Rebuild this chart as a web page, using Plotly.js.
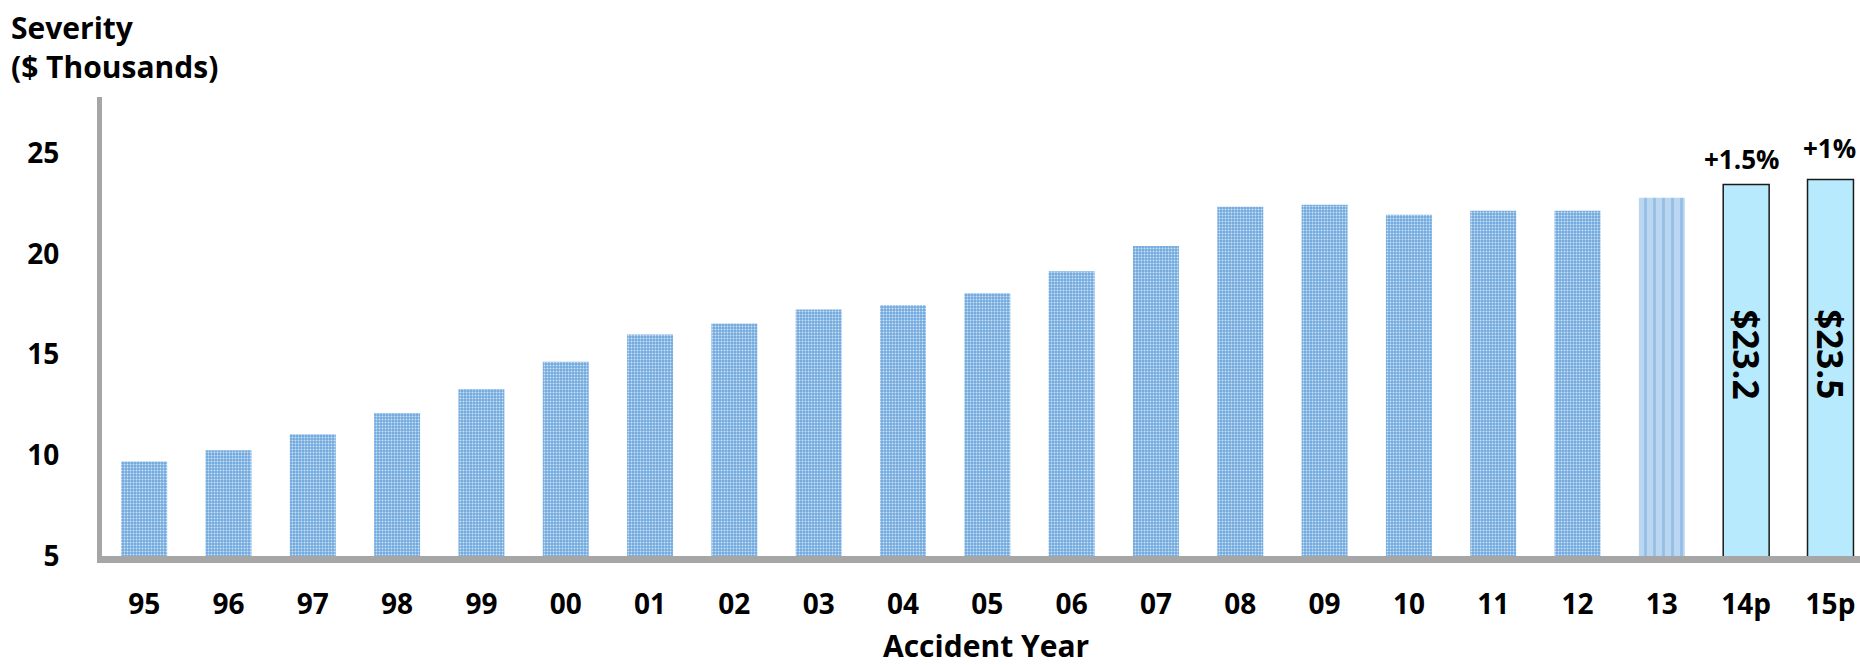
<!DOCTYPE html>
<html>
<head>
<meta charset="utf-8">
<script src="https://cdn.plot.ly/plotly-3.0.1.min.js"></script>
<style>
  html, body { margin: 0; padding: 0; background: #ffffff; }
  #chart { width: 1860px; height: 665px; }
</style>
</head>
<body>
<div id="chart"></div>
<script>
// ---- Data ----
const years = ['95','96','97','98','99','00','01','02','03','04','05','06','07','08','09','10','11','12','13','14p','15p'];

const histYears = ['95','96','97','98','99','00','01','02','03','04','05','06','07','08','09','10','11','12'];
const histSeverity = [9.7, 10.25, 11.05, 12.1, 13.3, 14.65, 16.0, 16.55, 17.25, 17.45, 18.05, 19.15, 20.4, 22.35, 22.45, 21.95, 22.15, 22.15];

const latestYears = ['13'];
const latestSeverity = [22.8];

const projYears = ['14p','15p'];
const projSeverity = [23.45, 23.7];
const projLabels = ['$23.2', '$23.5'];
const projChange = ['+1.5%', '+1%'];

const yTicks = [5, 10, 15, 20, 25];

// ---- Styling ----
const FONT = '"Open Sans", Lato, sans-serif';
const axisGray = '#A6A6A6';
const boldFont = (size) => ({ family: FONT, size: size, weight: 700, color: '#000000' });

const traces = [
  {
    type: 'bar',
    x: histYears,
    y: histSeverity,
    width: 0.545,
    marker: {
      color: '#7DB2E2',
      line: { width: 0 },
      pattern: { shape: '.', fgcolor: '#CFE3F6', bgcolor: '#6EA7DD', size: 3, solidity: 0.35, fillmode: 'replace' }
    },
    hoverinfo: 'x+y',
    showlegend: false
  },
  {
    type: 'bar',
    x: latestYears,
    y: latestSeverity,
    width: 0.545,
    marker: {
      color: '#AFCFEE',
      line: { width: 0 },
      pattern: { shape: '|', fgcolor: '#94BEE5', bgcolor: '#BAD6F0', size: 9, solidity: 0.3, fillmode: 'replace' }
    },
    hoverinfo: 'x+y',
    showlegend: false
  },
  {
    type: 'bar',
    x: projYears,
    y: projSeverity,
    width: 0.545,
    marker: {
      color: '#B7EAFD',
      line: { width: 1.5, color: '#1A1A1A' }
    },
    hoverinfo: 'x+y',
    showlegend: false
  }
];

const annotations = [];
// y-axis title at top-left
annotations.push({
  xref: 'paper', yref: 'paper', x: -0.053, y: 1.2,
  xanchor: 'left', yanchor: 'top', align: 'left',
  text: 'Severity<br>($ Thousands)', showarrow: false,
  font: boldFont(30)
});
// x-axis title
annotations.push({
  xref: 'paper', yref: 'paper', x: 0.503, y: -0.194,
  xanchor: 'center', yanchor: 'middle',
  text: 'Accident Year', showarrow: false,
  font: boldFont(30)
});
// vertical value labels inside projected bars
projYears.forEach((yr, i) => {
  annotations.push({
    x: yr, y: 15.0, xref: 'x', yref: 'y',
    text: projLabels[i], showarrow: false, textangle: 90,
    font: boldFont(35)
  });
});
// percent changes above projected bars
const changeShift = [26, 32];
const changeXShift = [-5, -1];
projYears.forEach((yr, i) => {
  annotations.push({
    x: yr, y: projSeverity[i], xref: 'x', yref: 'y',
    yanchor: 'middle', yshift: changeShift[i], xshift: changeXShift[i],
    text: projChange[i], showarrow: false,
    font: boldFont(26)
  });
});

const layout = {
  width: 1860, height: 665,
  margin: { l: 102, r: 0, t: 97, b: 109, autoexpand: false },
  paper_bgcolor: '#ffffff', plot_bgcolor: '#ffffff',
  barmode: 'overlay',
  font: boldFont(28),
  xaxis: {
    type: 'category',
    categoryorder: 'array', categoryarray: years,
    range: [-0.5, 20.35],
    automargin: false,
    showline: true, linecolor: axisGray, linewidth: 7,
    showgrid: false, zeroline: false, ticks: '',
    ticklabelstandoff: 17,
    tickfont: boldFont(28),
    fixedrange: true
  },
  yaxis: {
    range: [5, 27.8],
    automargin: false,
    tickvals: yTicks,
    ticktext: yTicks.map(String),
    showline: true, linecolor: axisGray, linewidth: 5,
    showgrid: false, zeroline: false, ticks: '',
    ticklabelstandoff: 32,
    tickfont: boldFont(28),
    fixedrange: true
  },
  annotations: annotations
};

Plotly.newPlot('chart', traces, layout, { displayModeBar: false, staticPlot: true });
</script>
</body>
</html>
